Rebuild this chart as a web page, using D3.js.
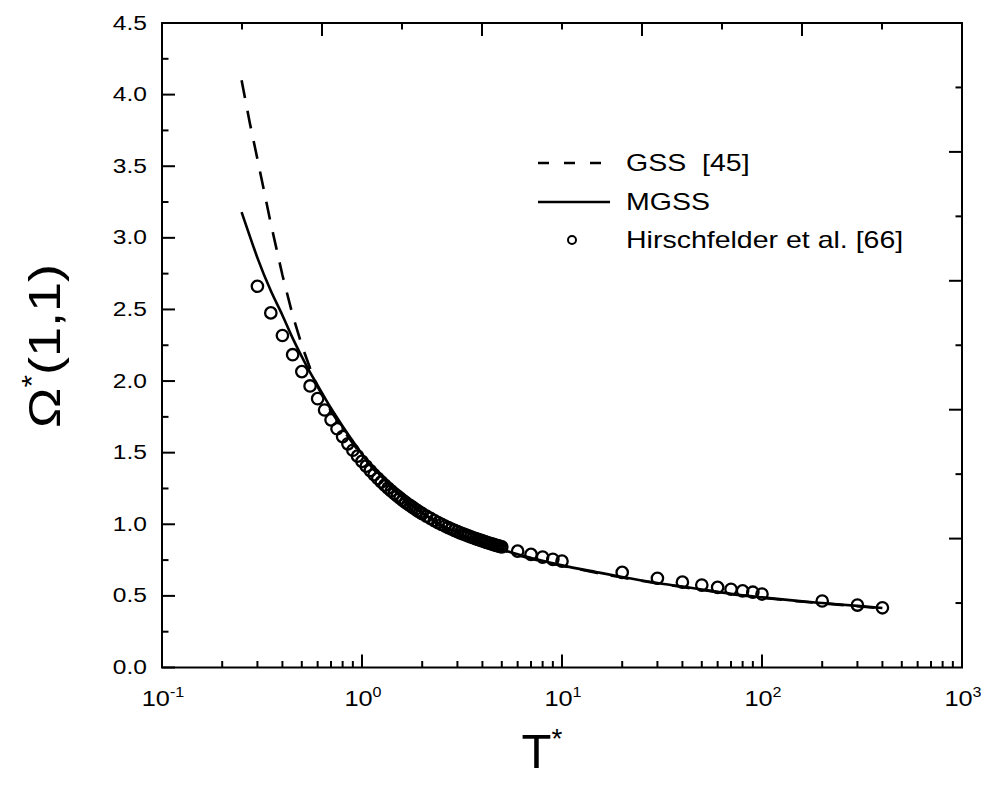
<!DOCTYPE html>
<html><head><meta charset="utf-8">
<script src="https://cdn.jsdelivr.net/npm/d3@7/dist/d3.min.js"></script>
<style>body{margin:0;background:#fff}svg{display:block}text{font-family:"Liberation Sans",Arial,sans-serif;fill:#000}</style>
</head><body>
<svg id="c" width="983" height="785"></svg>
<script>
// Hirschfelder et al. [66] tabulated points
const hirschT = [0.3,0.35,0.4,0.45,0.5,0.55,0.6,0.65,0.7,0.75,0.8,0.85,0.9,0.95,1.0,1.05,1.1,1.15,1.2,1.25,1.3,1.35,1.4,1.45,1.5,1.55,1.6,1.65,1.7,1.75,1.8,1.85,1.9,1.95,2.0,2.1,2.2,2.3,2.4,2.5,2.6,2.7,2.8,2.9,3.0,3.1,3.2,3.3,3.4,3.5,3.6,3.7,3.8,3.9,4.0,4.1,4.2,4.3,4.4,4.5,4.6,4.7,4.8,4.9,5.0,6,7,8,9,10,20,30,40,50,60,70,80,90,100,200,300,400];
const hirschV = [2.662,2.476,2.318,2.184,2.066,1.966,1.877,1.798,1.729,1.667,1.612,1.562,1.517,1.476,1.439,1.406,1.375,1.346,1.320,1.296,1.273,1.253,1.233,1.215,1.198,1.182,1.167,1.153,1.140,1.128,1.116,1.105,1.094,1.084,1.075,1.057,1.041,1.026,1.012,0.9996,0.9878,0.9770,0.9672,0.9576,0.9490,0.9406,0.9328,0.9256,0.9186,0.9120,0.9058,0.8998,0.8942,0.8888,0.8836,0.8788,0.8740,0.8694,0.8652,0.8610,0.8568,0.8530,0.8492,0.8456,0.8422,0.8124,0.7896,0.7712,0.7556,0.7424,0.6640,0.6232,0.5960,0.5756,0.5596,0.5464,0.5352,0.5256,0.5130,0.4644,0.4360,0.4170];
// MGSS curve
const mgssT = [0.25,0.275,0.3,0.35,0.4,0.45,0.5,0.55,0.6,0.7,0.8,0.9,1.0,1.2,1.5,2,2.5,3,4,5,6,7,8,10,15,20,30,40,50,70,100,150,200,300,400];
const mgssV = [3.18,3.01,2.86,2.63,2.46,2.30,2.17,2.06,1.97,1.81,1.685,1.58,1.49,1.36,1.22,1.08,0.995,0.94,0.87,0.825,0.79,0.765,0.745,0.713,0.665,0.632,0.59,0.565,0.545,0.515,0.49,0.465,0.45,0.43,0.415];
// GSS [45] curve
const gssT = [0.25,0.275,0.3,0.35,0.4,0.45,0.5,0.55,0.6,0.7,0.8,0.9,1.0,1.2,1.5,2,2.5,3,4,5,6,7,8,10,15,20,30,40,50,70,100,150,200,300,400];
const gssV = [4.10,3.80,3.55,3.10,2.74,2.46,2.25,2.09,1.96,1.79,1.665,1.565,1.48,1.35,1.215,1.075,0.99,0.935,0.865,0.82,0.785,0.76,0.74,0.71,0.66,0.628,0.587,0.562,0.542,0.512,0.487,0.463,0.448,0.428,0.413];
const yTicks = [0.0,0.5,1.0,1.5,2.0,2.5,3.0,3.5,4.0,4.5];
const xTickExp = [-1,0,1,2,3];
const legendLabels = ["GSS\u00a0\u00a0[45]","MGSS","Hirschfelder et al. [66]"];

const L=162, R=962, T=23, B=667.5;
const svg = d3.select("#c");
const x = d3.scaleLog().domain([0.1,1000]).range([L,R]);
const y = d3.scaleLinear().domain([0,4.5]).range([B,T]);

const line = d3.line().x(d=>x(d[0])).y(d=>y(d[1]));
const g = svg.append("g");
g.append("path").datum(gssT.map((t,i)=>[t,gssV[i]])).attr("d",line)
  .attr("fill","none").attr("stroke","#000").attr("stroke-width",2.6).attr("stroke-dasharray","18,13");
g.append("path").datum(mgssT.map((t,i)=>[t,mgssV[i]])).attr("d",line.curve(d3.curveMonotoneX))
  .attr("fill","none").attr("stroke","#000").attr("stroke-width",2.6);
g.selectAll("circle").data(hirschT.map((t,i)=>[t,hirschV[i]])).enter().append("circle")
  .attr("cx",d=>x(d[0])).attr("cy",d=>y(d[1])).attr("r",5.7)
  .attr("fill","none").attr("stroke","#000").attr("stroke-width",2.3);

// frame
svg.append("rect").attr("x",L).attr("y",T).attr("width",R-L).attr("height",B-T)
  .attr("fill","none").attr("stroke","#000").attr("stroke-width",2);

const ax = svg.append("g").attr("stroke","#000").attr("stroke-width",2);
d3.range(0,4.51,0.25).forEach(v=>{
  const major = Math.abs(v*2-Math.round(v*2))<1e-6;
  ax.append("line").attr("x1",L).attr("x2",L+(major?13:6.5)).attr("y1",y(v)).attr("y2",y(v));
});
for(let e=-1;e<3;e++){ for(let m=1;m<10;m++){ const v=m*Math.pow(10,e);
  ax.append("line").attr("x1",x(v)).attr("x2",x(v)).attr("y1",B).attr("y2",B-(m===1?13:6.5)); } }
const xt = d3.scaleLinear().domain([0,10]).range([L,R]);
const yr = d3.scaleLinear().domain([0,10]).range([B,T]);
d3.range(1,10).forEach(k=>{
  const major = k%2===0;
  ax.append("line").attr("x1",xt(k)).attr("x2",xt(k)).attr("y1",T).attr("y2",T+(major?13:6.5));
  ax.append("line").attr("x1",R).attr("x2",R-(major?13:6.5)).attr("y1",yr(k)).attr("y2",yr(k));
});

// y tick labels
svg.selectAll("text.yl").data(yTicks).enter().append("text").attr("class","yl")
  .attr("transform",d=>`translate(147,${y(d)+6.5}) scale(1.17,1)`).attr("text-anchor","end").attr("font-size",21)
  .text(d=>d.toFixed(1));
// x tick labels
xTickExp.forEach(e=>{
  const t = svg.append("text").attr("transform",`translate(${x(Math.pow(10,e))+1},706) scale(1.15,1)`).attr("text-anchor","middle").attr("font-size",22);
  t.append("tspan").text("10");
  t.append("tspan").attr("font-size",14).attr("dy",-9).text(String(e));
});

// axis titles
const xt2 = svg.append("text").attr("x",542).attr("y",768).attr("text-anchor","middle").attr("font-size",49);
xt2.append("tspan").text("T");
xt2.append("tspan").attr("font-size",28).attr("dy",-20).text("*");
const yt = svg.append("text").attr("transform","translate(60,346) rotate(-90) scale(1.2,1)").attr("text-anchor","middle").attr("font-size",45);
yt.append("tspan").text("Ω");
yt.append("tspan").attr("font-size",27).attr("dy",-19).text("*");
yt.append("tspan").attr("dy",19).text("(1,1)");

// legend
const lg = svg.append("g");
const ly = [163,202,240];
lg.append("line").attr("x1",538).attr("x2",610).attr("y1",ly[0]).attr("y2",ly[0]).attr("stroke","#000").attr("stroke-width",2.6).attr("stroke-dasharray","11,15");
lg.append("line").attr("x1",538).attr("x2",610).attr("y1",ly[1]).attr("y2",ly[1]).attr("stroke","#000").attr("stroke-width",2.6);
lg.append("circle").attr("cx",572).attr("cy",ly[2]).attr("r",4).attr("fill","none").attr("stroke","#000").attr("stroke-width",2);
legendLabels.forEach((s,i)=>{
  lg.append("text").attr("transform",`translate(626,${ly[i]+8}) scale(1.24,1)`).attr("font-size",23).text(s);
});
</script>
</body></html>
